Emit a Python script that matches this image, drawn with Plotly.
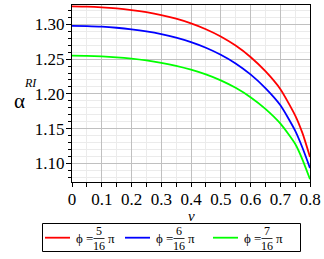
import plotly.graph_objects as go

# ---- data ----
v = [0.0, 0.05, 0.1, 0.15, 0.2, 0.25, 0.3, 0.35, 0.4, 0.45, 0.5, 0.55, 0.6, 0.65, 0.7, 0.75, 0.775, 0.8]
alpha_5 = [1.326, 1.3256, 1.3247, 1.3231, 1.3207, 1.3176, 1.3135, 1.3082, 1.3015, 1.2931, 1.2826,
           1.2695, 1.2531, 1.2326, 1.207, 1.169, 1.143, 1.109]
alpha_6 = [1.298, 1.2976, 1.2968, 1.2952, 1.2929, 1.2899, 1.286, 1.2809, 1.2745, 1.2664, 1.2563,
           1.2438, 1.228, 1.2083, 1.1838, 1.147, 1.122, 1.093]
alpha_7 = [1.255, 1.2547, 1.2539, 1.2526, 1.2507, 1.2481, 1.2447, 1.2404, 1.2349, 1.228, 1.2194,
           1.2087, 1.1952, 1.1784, 1.1574, 1.128, 1.105, 1.077]
numerators = ["5", "6", "7"]
denominator = "16"
colors = ["#ff0000", "#0000ff", "#00ff00"]
x_ticks = [0, 0.1, 0.2, 0.3, 0.4, 0.5, 0.6, 0.7, 0.8]
x_ticklabels = ["0", "0.1", "0.2", "0.3", "0.4", "0.5", "0.6", "0.7", "0.8"]
y_ticks = [1.10, 1.15, 1.20, 1.25, 1.30]
y_ticklabels = ["1.10", "1.15", "1.20", "1.25", "1.30"]

W, H = 324, 259
L, R, T, B = 72, 14, 5, 77
PW, PH = W - L - R, H - T - B

def px(x):
    return (x - L) / PW

def py(y):
    return (H - B - y) / PH

SERIF = "Liberation Serif, Times New Roman, serif"

fig = go.Figure()
for ys, c in zip([alpha_5, alpha_6, alpha_7], colors):
    fig.add_trace(go.Scatter(x=v, y=ys, mode="lines",
                             line=dict(color=c, width=1.8, shape="spline", smoothing=0.6),
                             showlegend=False, hoverinfo="skip"))

fig.update_layout(
    width=W, height=H,
    margin=dict(l=L, r=R, t=T, b=B, autoexpand=False),
    paper_bgcolor="white", plot_bgcolor="white",
    font=dict(family=SERIF, size=17, color="black"),
)
fig.update_xaxes(
    range=[0, 0.8], tickvals=x_ticks, ticktext=x_ticklabels,
    showline=True, linecolor="black", linewidth=1, mirror=True,
    ticks="outside", ticklen=4, tickcolor="black", ticklabelstandoff=-2,
    showgrid=True, gridcolor="#c0c0c0", gridwidth=1, zeroline=False,
    minor=dict(dtick=0.05, tick0=0, showgrid=True, gridcolor="#ebebeb",
               ticks="outside", ticklen=4, tickcolor="black"),
    tickfont=dict(family=SERIF, size=17), automargin=False,
)
fig.update_yaxes(
    range=[1.073, 1.328], tickvals=y_ticks, ticktext=y_ticklabels,
    showline=True, linecolor="black", linewidth=1, mirror=True,
    ticks="outside", ticklen=5, tickcolor="black", ticklabelstandoff=-2,
    showgrid=True, gridcolor="#c0c0c0", gridwidth=1, zeroline=False,
    minor=dict(dtick=0.01, tick0=1.1, showgrid=True, gridcolor="#ebebeb",
               ticks="outside", ticklen=3, tickcolor="black"),
    tickfont=dict(family=SERIF, size=17), automargin=False,
)

ann = []
shapes = []

def text(x, y, s, size, xanchor="center"):
    ann.append(dict(x=px(x), y=py(y), xref="paper", yref="paper", showarrow=False,
                    xanchor=xanchor, yanchor="middle", text=s,
                    font=dict(family=SERIF, size=size), borderpad=0))

# axis titles
text(19, 101, "α", 21)
text(30, 83, "<i>RI</i>", 12)
text(191, 216, "<i>v</i>", 15)

# custom legend
shapes.append(dict(type="rect", xref="paper", yref="paper",
                   x0=px(42.5), x1=px(300.5), y0=py(251.5), y1=py(223.5),
                   line=dict(color="black", width=1), fillcolor="white", layer="above"))
line_x = [45, 125, 213]
for i, (num, c) in enumerate(zip(numerators, colors)):
    x0 = line_x[i]
    shapes.append(dict(type="line", xref="paper", yref="paper",
                       x0=px(x0), x1=px(x0 + 25), y0=py(237.7), y1=py(237.7),
                       line=dict(color=c, width=1.8), layer="above"))
    text(x0 + 30, 238, "ϕ =", 13, xanchor="left")
    fx = x0 + 54
    text(fx, 231, num, 12)
    shapes.append(dict(type="line", xref="paper", yref="paper",
                       x0=px(fx - 5.5), x1=px(fx + 5.5), y0=py(238.5), y1=py(238.5),
                       line=dict(color="black", width=0.8), layer="above"))
    text(fx, 246, denominator, 12)
    text(fx + 12, 238, "π", 13)

fig.update_layout(annotations=ann, shapes=shapes)
fig.write_html("out.html",
               config={"displayModeBar": False, "staticPlot": True},
               post_script="document.body.style.margin='0';document.body.style.padding='0';"
                           "document.body.style.overflow='hidden';")
